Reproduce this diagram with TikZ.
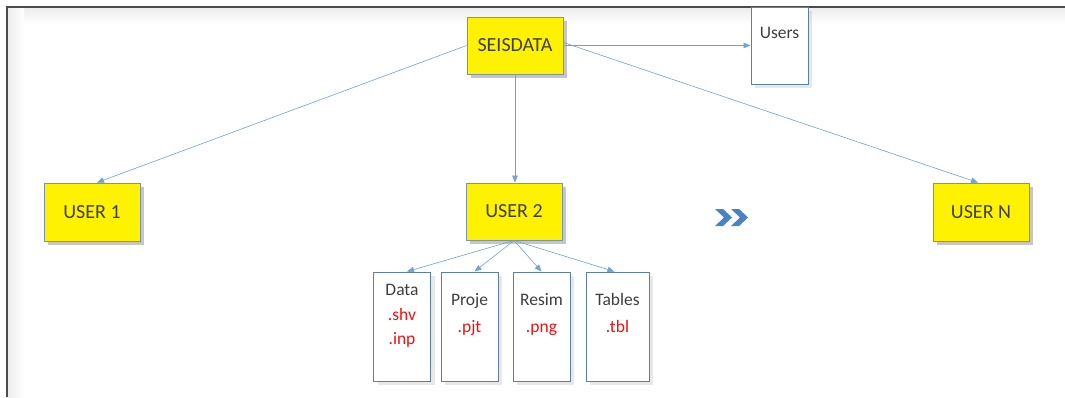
\documentclass[tikz,border=0pt]{standalone}
\usepackage{fontspec}
\setmainfont{Carlito}
\usetikzlibrary{arrows.meta,shadows,positioning}
\definecolor{link}{HTML}{6FA0D8}
\definecolor{boxedge}{HTML}{5A7FA8}
\definecolor{useredge}{HTML}{7A95A8}
\definecolor{ink}{HTML}{3F3F3F}
\definecolor{ext}{HTML}{F01010}
\definecolor{chev}{HTML}{4A82C4}
\tikzset{
  userbox/.style={draw=useredge, line width=0.9pt, fill=yellow, text=ink,
    minimum width=96, minimum height=57, inner sep=0pt,
    font=\fontsize{20}{24}\selectfont,
    drop shadow={opacity=0.45, shadow xshift=4pt, shadow yshift=-4pt}},
  filebox/.style={draw=boxedge, line width=0.9pt, fill=white,
    minimum width=57, minimum height=109, inner sep=0pt,
    drop shadow={opacity=0.18, shadow xshift=4pt, shadow yshift=-4pt}},
  filetext/.style={text=ink, inner sep=0pt, anchor=base,
    font=\fontsize{17.5}{21}\selectfont},
  exttext/.style={filetext, text=ext},
  link/.style={draw=link, line width=0.6pt, -{Triangle[length=7pt,width=5.5pt]}},
}
\begin{document}
\begin{tikzpicture}[x=1pt,y=-1pt]
\useasboundingbox (0,0) rectangle (1065,397);
% page frame with a faint inner shadow
\shade[top color=gray!14, bottom color=white] (8,8) rectangle (1065,24);
\shade[left color=gray!14, right color=white] (8,8) rectangle (24,397);
\draw[gray!60!black, line width=2pt] (7,397) -- (7,7) -- (1065,7);

% top level
\node[userbox] (seis) at (515,45.5) {SEISDATA};
\node[filebox, minimum height=77] (users) at (779.5,45.5) {};
\node[filetext] (userst) at (779.5,38) {Users};

% users
\node[userbox, minimum height=58] (u1) at (92,212) {USER 1};
\node[userbox] (u2) at (514,211.5) {USER 2};
\node[userbox, minimum height=58] (un) at (981,212) {USER N};

% user folders
\node[filebox] (data) at (402,326.5) {};
\node[filebox] (proj) at (469.5,326.5) {};
\node[filebox] (resim) at (541.5,326.5) {};
\node[filebox, minimum width=63] (tabl) at (617.5,326.5) {};
\node[filetext] (datat) at (402,295) {Data};
\node[exttext] (shv) at (402,320) {.shv};
\node[exttext] (inp) at (402,344) {.inp};
\node[filetext] (projt) at (469.5,305.5) {Proje};
\node[exttext] (pjt) at (469.5,332) {.pjt};
\node[filetext] (resimt) at (541.5,305.5) {Resim};
\node[exttext] (png) at (541.5,332) {.png};
\node[filetext] (tablt) at (617.5,305.5) {Tables};
\node[exttext] (tbl) at (617.5,332) {.tbl};

% connectors
\path[link] (seis.west) -- ([xshift=5]u1.north);
\path[link] (seis.south) -- ([xshift=1]u2.north);
\path[link] (seis.east) -- (users.west);
\path[link] ([yshift=3]seis.east) -- ([xshift=-3]un.north);
\path[link] (u2.south) -- ([xshift=5]data.north);
\path[link] (u2.south) -- ([xshift=5]proj.north);
\path[link] (u2.south) -- (resim.north);
\path[link] (u2.south) -- ([xshift=-3]tabl.north);

% "more users" chevrons
\begin{scope}[fill=chev, drop shadow={opacity=0.35, shadow xshift=2pt, shadow yshift=-3pt}]
\fill (715,209) -- (723,209) -- (732,217.5) -- (723,226) -- (715,226) -- (724,217.5) -- cycle;
\fill (731,209) -- (739,209) -- (748,217.5) -- (739,226) -- (731,226) -- (740,217.5) -- cycle;
\end{scope}
\end{tikzpicture}
\end{document}
